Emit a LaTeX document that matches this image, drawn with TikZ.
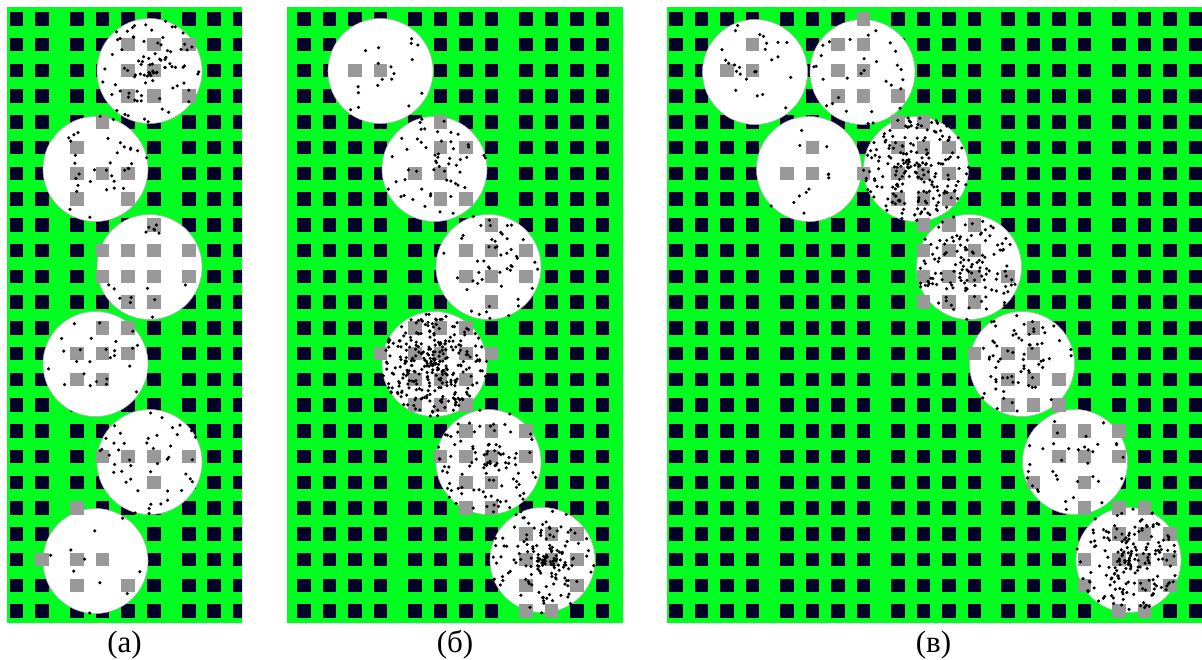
\documentclass[tikz,border=0pt]{standalone}
\usepackage{fontspec}
\setmainfont{Liberation Serif}
\definecolor{pgreen}{RGB}{0,255,33}
\definecolor{navy}{RGB}{0,0,40}
\definecolor{sqgray}{RGB}{153,153,153}
\newcommand\scatterdots[4]{%
  \foreach \dk in {1,...,#3}{%
    \pgfmathsetmacro\dotang{360*rnd}%
    \pgfmathsetmacro\dotrad{53*pow(rnd,#4)}%
    \fill[black] ({#1+\dotrad*cos(\dotang)},{#2+\dotrad*sin(\dotang)}) circle[radius=1.75];
  }}
\newcommand\gridcols[1]{%
  \foreach \gx in {#1}{\foreach \gr in {0,...,23}{%
    \fill[navy] ({\gx},{12+25.75*\gr}) rectangle ++(13.5,13.5);}}}
\newcommand\graysq[2]{\fill[sqgray] ({#1},{12+25.75*#2}) rectangle ++(13.5,13.5);}
\tikzset{disc/.style={fill=white,draw=gray!60,line width=0.6pt},
  caption/.style={font=\fontsize{31}{36}\selectfont,anchor=base,inner sep=0pt}}
\begin{document}
\begin{tikzpicture}[x=1pt,y=-1pt]
\pgfmathsetseed{4711}
\useasboundingbox[fill=white] (0,0) rectangle (1202,659);
% ---------------- panel (a)
\begin{scope}
\clip (7,7) rectangle (242,623);
\fill[pgreen] (7,7) rectangle (242,623);
\gridcols{9.5,35,70,95.5,121,147,182,207,232.5}
\foreach \cx/\cy in {149.5/71,95.5/169,149.5/267,95.5/364,149.5/462,95.5/561}
  {\draw[disc] (\cx,\cy) circle[radius=52.5];}
\foreach \gx/\gr in {121/1,147/1,182/1,121/2,147/2,121/3,147/3,182/3,
  95.5/4,70/5,70/6,95.5/6,121/6,70/7,121/7,
  147/8,95.5/9,121/9,147/9,182/9,95.5/10,121/10,147/10,182/10,121/11,147/11,
  95.5/12,121/12,70/13,95.5/13,121/13,70/14,95.5/14,
  95.5/17,121/17,147/17,182/17,147/18,
  70/19,35/21,70/21,95.5/21,70/22,121/22}
  {\graysq{\gx}{\gr}}
\scatterdots{149.5}{71}{90}{0.85}
\scatterdots{95.5}{169}{35}{0.6}
\scatterdots{149.5}{267}{15}{0.6}
\scatterdots{95.5}{364}{25}{0.6}
\scatterdots{149.5}{462}{45}{0.65}
\scatterdots{95.5}{561}{10}{0.6}
\end{scope}
% ---------------- panel (b)
\begin{scope}
\clip (287,7) rectangle (623,623);
\fill[pgreen] (287,7) rectangle (623,623);
\gridcols{297,322.5,348,373.5,408,433.5,459,484.5,519,544.5,570,595.5}
\foreach \cx/\cy in {380.5/71,434.5/169,488.5/267,434.5/364,488.5/462,542.5/560}
  {\draw[disc] (\cx,\cy) circle[radius=52.5];}
\foreach \gx/\gr in {348/2,373.5/2,
  433.5/4,433.5/5,459/5,408/6,433.5/6,433.5/7,459/7,
  484.5/8,459/9,484.5/9,519/9,459/10,484.5/10,519/10,484.5/11,
  408/12,433.5/12,459/12,373.5/13,408/13,433.5/13,459/13,484.5/13,
  408/14,433.5/14,459/14,408/15,433.5/15,459/15,
  459/16,484.5/16,519/16,433.5/17,459/17,484.5/17,519/17,459/18,484.5/18,459/19,484.5/19,
  519/20,544.5/20,570/20,519/21,544.5/21,570/21,519/22,570/22,519/23,544.5/23}
  {\graysq{\gx}{\gr}}
\scatterdots{380.5}{71}{18}{0.6}
\scatterdots{434.5}{169}{55}{0.7}
\scatterdots{488.5}{267}{50}{0.75}
\scatterdots{434.5}{364}{300}{0.8}
\scatterdots{488.5}{462}{100}{0.75}
\scatterdots{542.5}{560}{150}{0.95}
\end{scope}
% ---------------- panel (c)
\begin{scope}
\clip (667,7) rectangle (1202,623);
\fill[pgreen] (667,7) rectangle (1202,623);
\gridcols{669,694.5,720,745.5,780,805.5,831,856.5,891,916.5,942,967.5,1001,1026.5,1052,1077.5,1112,1137.5,1163,1188.5}
\foreach \cx/\cy in {755/72,862.5/72,809/169,916/169,969/267,1022/364,1075/462,1128.5/560}
  {\draw[disc] (\cx,\cy) circle[radius=52.5];}
\foreach \gx/\gr in {745.5/1,720/2,745.5/2,
  856.5/0,831/1,856.5/1,831/2,856.5/2,831/3,856.5/3,891/3,
  805.5/5,780/6,805.5/6,856.5/6,
  891/4,916.5/4,891/5,916.5/5,942/5,891/6,916.5/6,942/6,891/7,916.5/7,942/7,
  916.5/8,942/8,967.5/8,916.5/9,942/9,967.5/9,916.5/10,942/10,967.5/10,1001/10,916.5/11,942/11,967.5/11,
  1026.5/12,967.5/13,1001/13,1026.5/13,1001/14,1026.5/14,1052/14,1001/15,1026.5/15,1052/15,
  1052/16,1077.5/16,1112/16,1052/17,1077.5/17,1112/17,1026.5/18,1077.5/18,1077.5/19,
  1112/19,1137.5/19,1112/20,1137.5/20,1163/20,1077.5/21,1112/21,1137.5/21,1163/21,
  1077.5/22,1137.5/22,1163/22,1112/23,1137.5/23}
  {\graysq{\gx}{\gr}}
\scatterdots{755}{72}{25}{0.7}
\scatterdots{862.5}{72}{30}{0.6}
\scatterdots{809}{169}{12}{0.6}
\scatterdots{916}{169}{200}{0.65}
\scatterdots{969}{267}{130}{0.8}
\scatterdots{1022}{364}{70}{0.75}
\scatterdots{1075}{462}{35}{0.6}
\scatterdots{1128.5}{560}{180}{0.95}
\end{scope}
% ---------------- captions
\node[caption] (capa) at (124.5,652) {(а)};
\node[caption] (capb) at (455,652) {(б)};
\node[caption] (capc) at (933.5,652) {(в)};
\end{tikzpicture}
\end{document}
